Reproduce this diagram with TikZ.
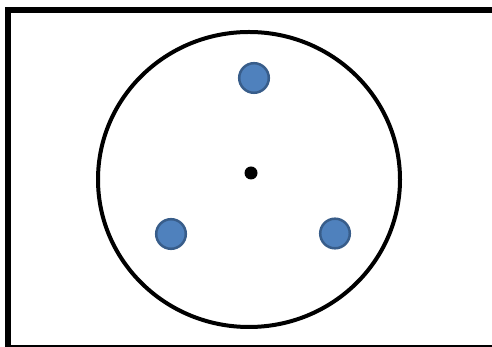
\documentclass[tikz,border=0pt]{standalone}
\usepackage{xcolor}
\usepackage{tikz}
\definecolor{dotblue}{RGB}{79, 129, 189}
\definecolor{dotedge}{RGB}{56, 93, 138}

\begin{document}
\begin{tikzpicture}[x=1pt, y=1pt]
    \useasboundingbox (0, 0) rectangle (492, 347);
    % frame
    \draw[line width=6pt] (8, 0) -- (8, 337) -- (492, 337);
    \draw[line width=1.5pt] (8, 0.75) -- (492, 0.75);
    % outer ring
    \draw[line width=4pt] (249, 167.5) ellipse[x radius=151, y radius=147.5];
    % centre and blue dots
    \fill (251, 174) circle (6.5);
    \foreach \cx/\cy in {254/269, 171/113, 335/113.5}
        \filldraw[fill=dotblue, draw=dotedge, line width=2.5pt] (\cx, \cy) circle (14.8);
\end{tikzpicture}
\end{document}
